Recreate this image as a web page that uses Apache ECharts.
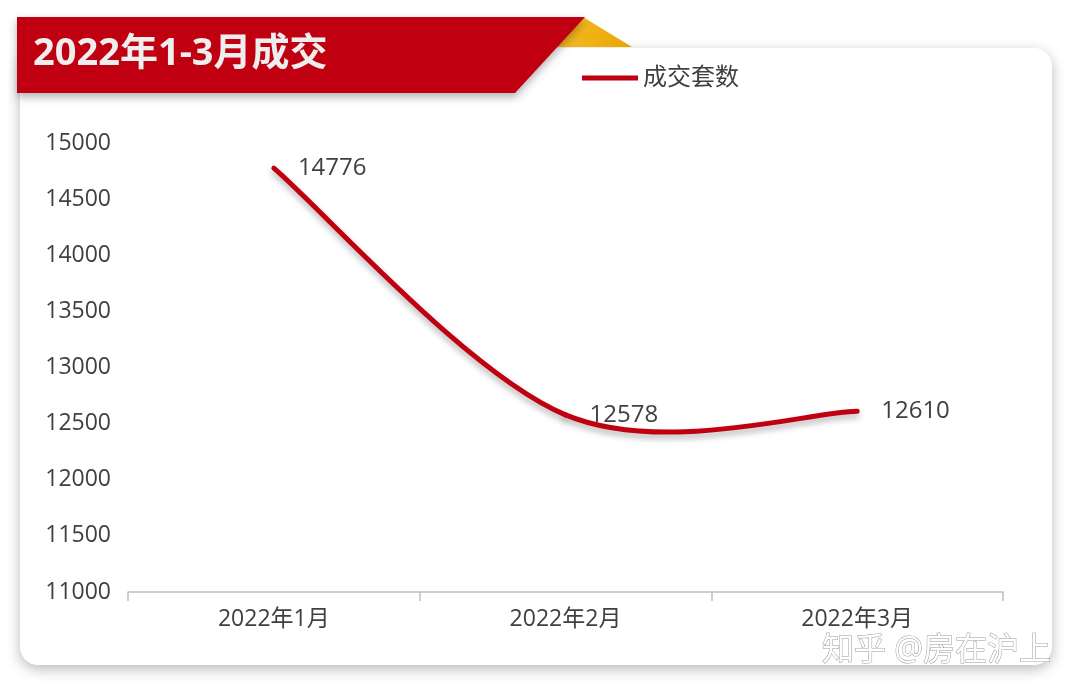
<!DOCTYPE html>
<html>
<head>
<meta charset="utf-8">
<script src="https://cdn.jsdelivr.net/npm/echarts@6/dist/echarts.min.js"></script>
<style>html,body{margin:0;padding:0;background:#fff;}#c{width:1080px;height:694px;}</style>
</head>
<body>
<div id="c"></div>
<script>
const categories = ['2022年1月', '2022年2月', '2022年3月'];
const values = [14776, 12578, 12610];
const seriesName = '成交套数';
const titleText = '2022年1-3月成交';
const yMin = 11000, yMax = 15000, yInterval = 500;

const FONT = '"Open Sans","Noto Sans CJK SC","Noto Sans",sans-serif';
const LINE_COLOR = '#c00010';

// Catmull-Rom style smoothing (like office charts) -> bezier segments in pixel space
function smoothSegments(pts) {
  const n = pts.length, segs = [];
  for (let i = 0; i < n - 1; i++) {
    const p0 = pts[Math.max(i - 1, 0)], p1 = pts[i], p2 = pts[i + 1], p3 = pts[Math.min(i + 2, n - 1)];
    segs.push({
      x1: p1[0], y1: p1[1],
      cpx1: p1[0] + (p2[0] - p0[0]) / 6, cpy1: p1[1] + (p2[1] - p0[1]) / 6,
      cpx2: p2[0] - (p3[0] - p1[0]) / 6, cpy2: p2[1] - (p3[1] - p1[1]) / 6,
      x2: p2[0], y2: p2[1]
    });
  }
  return segs;
}

const chart = echarts.init(document.getElementById('c'), null, {renderer: 'canvas'});
chart.setOption({
  backgroundColor: '#ffffff',
  textStyle: {fontFamily: FONT},
  graphic: [
    {type: 'rect', z: -100, shape: {x: 20, y: 48, width: 1032, height: 617, r: 18},
     style: {fill: '#ffffff', shadowBlur: 14, shadowOffsetX: 0, shadowOffsetY: 4, shadowColor: 'rgba(0,0,0,0.28)'}},
    {type: 'polygon', z: 90, shape: {points: [[583, 17], [632, 47], [556, 47]]},
     style: {fill: new echarts.graphic.LinearGradient(0, 0, 1, 1, [{offset: 0, color: '#f5c02a'}, {offset: 1, color: '#e9a400'}])}},
    {type: 'polygon', z: 100, shape: {points: [[17, 17], [585, 17], [515, 93], [17, 93]]},
     style: {fill: LINE_COLOR, shadowBlur: 8, shadowOffsetY: 4, shadowColor: 'rgba(0,0,0,0.3)'}},
    {type: 'text', z: 110, x: 33, y: 54,
     style: {text: titleText, fill: '#eeeeee', font: 'bold 38px ' + FONT, textVerticalAlign: 'middle'}},
    {type: 'text', z: 110, x: 822, y: 651,
     style: {text: '知乎 @房在沪上', fill: '#ffffff', stroke: '#9a9a9a', lineWidth: 1, font: '32px ' + FONT, textVerticalAlign: 'middle'}}
  ],
  legend: {
    left: 577, top: 61,
    itemWidth: 56, itemHeight: 5, itemGap: 8,
    icon: 'rect',
    itemStyle: {color: LINE_COLOR},
    textStyle: {fontSize: 24, color: '#404040', fontFamily: FONT},
    data: [seriesName]
  },
  grid: {left: 128, right: 77, top: 143, bottom: 102, containLabel: false},
  xAxis: {
    type: 'category',
    data: categories,
    boundaryGap: true,
    axisLine: {lineStyle: {color: '#bfbfbf', width: 1.5}},
    axisTick: {show: true, length: 9, lineStyle: {color: '#bfbfbf', width: 1.5}},
    axisLabel: {fontSize: 23, color: '#404040', margin: 16, fontFamily: FONT},
    splitLine: {show: false}
  },
  yAxis: {
    type: 'value',
    min: yMin, max: yMax, interval: yInterval,
    axisLine: {show: false},
    axisTick: {show: false},
    axisLabel: {fontSize: 23, color: '#404040', margin: 17, fontFamily: FONT, formatter: v => String(v)},
    splitLine: {show: false}
  },
  series: [
    {
      name: seriesName,
      type: 'custom',
      color: LINE_COLOR,
      data: values.map((v, i) => [i, v]),
      encode: {x: 0, y: 1},
      renderItem: function (params, api) {
        if (params.dataIndex !== 0) return null;
        const pts = values.map((v, i) => api.coord([i, v]));
        const segs = smoothSegments(pts);
        return {
          type: 'group',
          children: segs.map(s => ({
            type: 'bezierCurve',
            shape: s,
            style: {stroke: LINE_COLOR, lineWidth: 5, fill: null, lineCap: 'round',
                    shadowColor: 'rgba(0,0,0,0.3)', shadowBlur: 6, shadowOffsetY: 4}
          }))
        };
      },
      emphasis: {disabled: true},
      silent: true
    },
    {
      name: '_labels',
      type: 'line',
      data: values,
      symbol: 'circle',
      symbolSize: 0.1,
      itemStyle: {color: 'rgba(0,0,0,0)'},
      lineStyle: {opacity: 0, width: 0},
      label: {show: true, position: 'right', distance: 24, fontSize: 24, color: '#404040', fontFamily: FONT},
      emphasis: {disabled: true},
      silent: true
    }
  ],
  animation: false
});
</script>
</body>
</html>
